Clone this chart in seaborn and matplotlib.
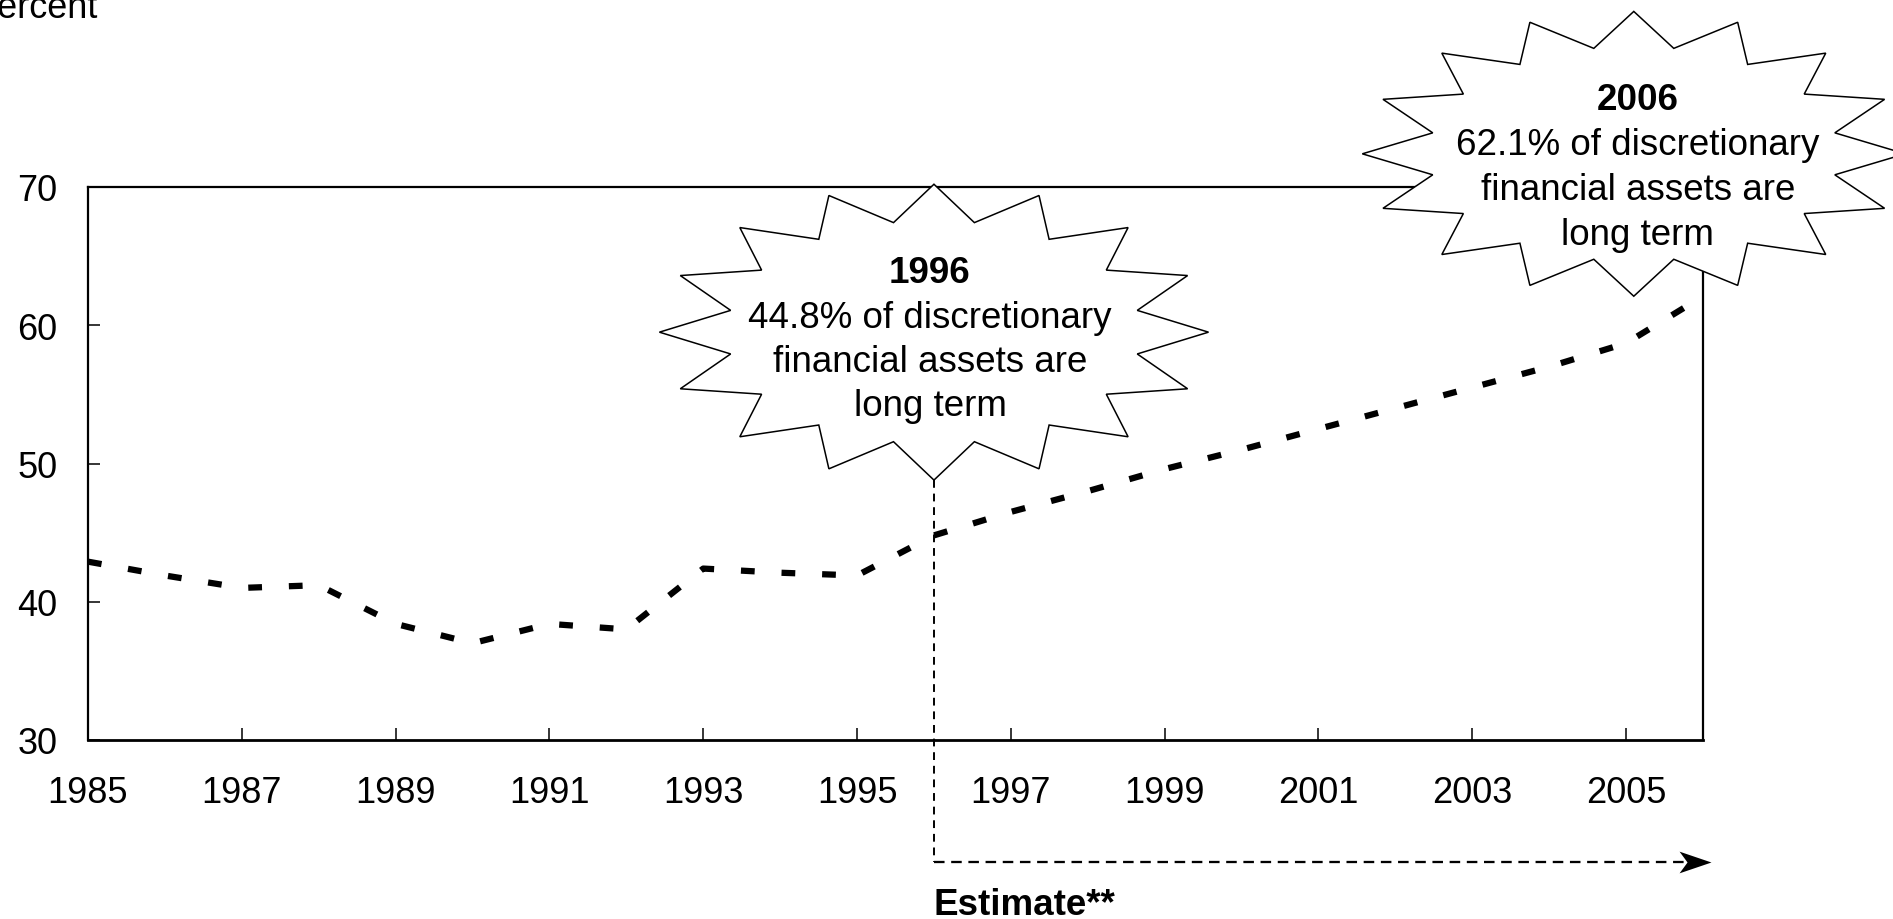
import matplotlib

matplotlib.use("Agg")

import matplotlib.pyplot as plt
import numpy as np
import pandas as pd
import seaborn as sns
from matplotlib.patches import Polygon

# Share of discretionary financial assets that are long term (percent)
years = list(range(1985, 2007))
long_term_share = [
    42.9, 41.9, 41.0, 41.2, 38.4, 37.0, 38.4, 38.0, 42.4, 42.1, 41.9,
    44.8, 46.5, 48.0, 49.6, 51.0, 52.5, 54.0, 55.5, 57.0, 58.7, 62.1,
]
x_ticks = list(range(1985, 2006, 2))
y_ticks = [30, 40, 50, 60, 70]

callout_titles = ["1996", "2006"]
callout_bodies = [
    ["44.8% of discretionary", "financial assets are", "long term"],
    ["62.1% of discretionary", "financial assets are", "long term"],
]
estimate_label = "Estimate**"
y_label = "Percent"

FIG_W, FIG_H = 1893, 920
PX = 0.72  # points per pixel at dpi 100


def starburst(cx, cy, a, b, n=16, inner=0.755):
    """Vertices of an elliptical n-point star, first tip pointing up."""
    pts = []
    for k in range(2 * n):
        t = np.pi * k / n
        r = 1.0 if k % 2 == 0 else inner
        pts.append((cx + r * a * np.sin(t), cy + r * b * np.cos(t)))
    return np.array(pts)


def callout(ax, cx, cy, a, b, title, body, baselines, dx=-4):
    """Draw a white starburst with a bold title and body lines."""
    star = Polygon(
        starburst(cx, cy, a, b), closed=True, facecolor="white",
        edgecolor="black", linewidth=1.1, zorder=6, clip_on=False,
    )
    ax.add_patch(star)
    lines = [title] + body
    for i, (line, off) in enumerate(zip(lines, baselines)):
        ax.annotate(
            line, xy=(cx, cy), xytext=(dx * PX, off * PX), textcoords="offset points",
            ha="center", va="baseline", fontsize=26.5, color="black",
            fontweight="bold" if i == 0 else "normal", zorder=7, annotation_clip=False,
        )


def main() -> None:
    sns.set_style("white")
    plt.rcParams["font.family"] = ["Liberation Sans", "DejaVu Sans"]
    plt.rcParams["text.color"] = "black"
    plt.rcParams["xtick.color"] = "black"
    plt.rcParams["ytick.color"] = "black"

    df = pd.DataFrame({"year": years, "share": long_term_share})

    fig = plt.figure(figsize=(FIG_W / 100, FIG_H / 100), dpi=100)
    ax = fig.add_axes([88 / FIG_W, 1 - 741 / FIG_H, (1703 - 88) / FIG_W, (741 - 188) / FIG_H])

    sns.lineplot(data=df, x="year", y="share", ax=ax, color="black", linewidth=4.5, zorder=4)
    ln = ax.lines[0]
    ln.set_linestyle((0, (2.2, 4.3)))
    ln.set_dash_capstyle("butt")

    ax.set_xlim(1985, 2006)
    ax.set_ylim(30, 70)
    ax.set_xticks(x_ticks)
    ax.set_yticks(y_ticks)
    ax.set_xlabel("")
    ax.set_ylabel("")
    for side in ["top", "bottom", "left", "right"]:
        ax.spines[side].set_visible(True)
        ax.spines[side].set_color("black")
        ax.spines[side].set_linewidth(1.6)
    ax.spines["bottom"].set_linewidth(2.0)
    ax.tick_params(axis="x", direction="in", length=8.5, width=1.1, pad=25,
                   labelsize=26, colors="black", labelcolor="black", bottom=True, top=False)
    ax.tick_params(axis="y", direction="in", length=8.5, width=1.1, pad=22,
                   labelsize=26, colors="black", labelcolor="black", left=True, right=False)

    # starburst callouts (sizes in data units)
    s96_x, s96_y, s96_a, s96_b = years[11], 59.5, 3.57, 10.7
    callout(ax, s96_x, s96_y, s96_a, s96_b, callout_titles[0], callout_bodies[0],
            [50.6, 5.6, -38.4, -82.4])
    callout(ax, 2005.1, 72.4, 3.53, 10.3, callout_titles[1], callout_bodies[1],
            [44.5, -0.5, -45.5, -90.5], dx=4)

    # estimate bracket
    y_bracket = 21.18
    x_tip = 2006.1
    ax.plot([s96_x, s96_x], [s96_y - s96_b, y_bracket], color="black", linewidth=1.4,
            linestyle=(0, (4, 3)), clip_on=False, zorder=3)
    ax.plot([s96_x, x_tip - 0.3], [y_bracket, y_bracket], color="black", linewidth=1.65,
            linestyle=(0, (4.6, 2.9)), clip_on=False, zorder=3)
    head = [(0, 0), (-1, 0.34), (-0.75, 0), (-1, -0.34)]
    ax.plot([x_tip], [y_bracket], marker=head, markersize=46, color="black",
            markeredgewidth=0, clip_on=False, zorder=3)
    ax.text(s96_x, 18.1, estimate_label, ha="left", va="center", fontsize=26.5,
            fontweight="bold", color="black", clip_on=False)

    fig.text(97 / FIG_W, 1 - 18 / FIG_H, y_label, ha="right", va="baseline",
             fontsize=26, color="black")

    fig.savefig("out.png", dpi=100)
    plt.close(fig)


if __name__ == "__main__":
    main()
